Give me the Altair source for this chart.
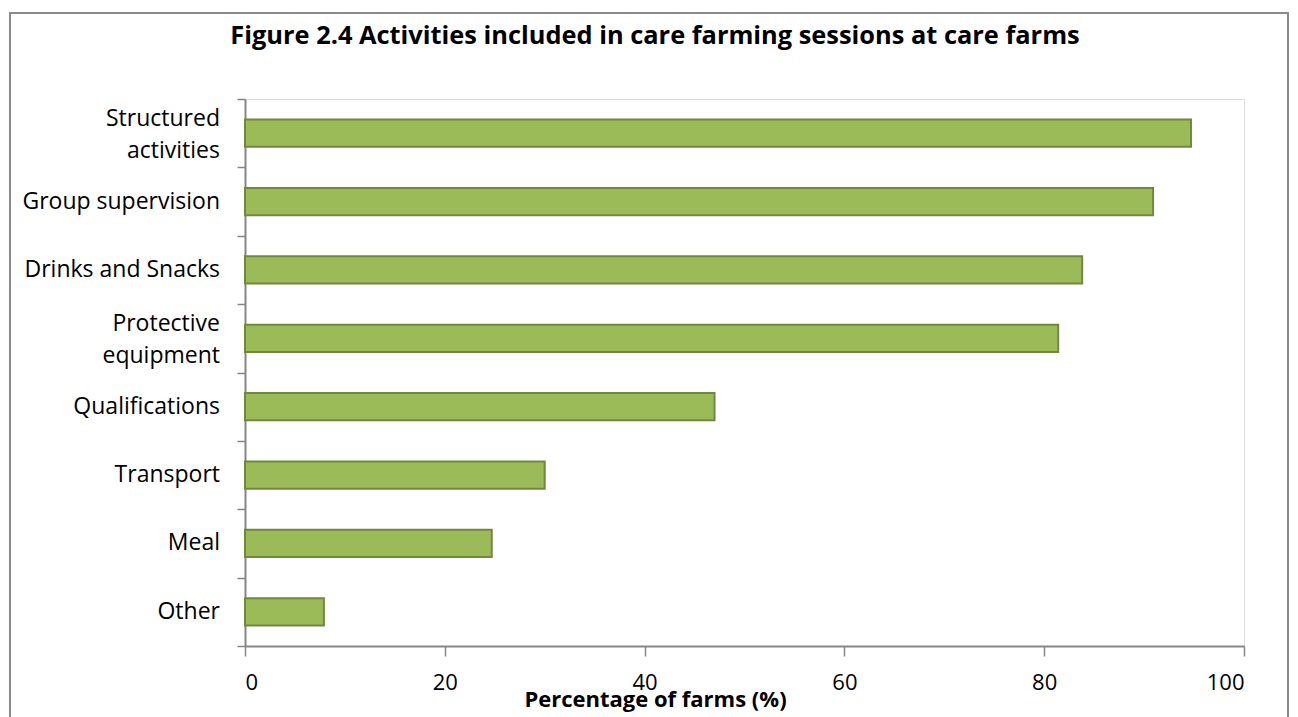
import altair as alt
import pandas as pd

categories = ["Structured\nactivities", "Group supervision", "Drinks and Snacks",
              "Protective\nequipment", "Qualifications", "Transport", "Meal", "Other"]
values = [94.7, 90.9, 83.8, 81.4, 47.0, 30.0, 24.7, 7.9]
x_ticks = [0, 20, 40, 60, 80, 100]
title_text = ["Figure 2.4 Activities included in care farming sessions at care farms"]

df = pd.DataFrame({"activity": categories, "pct": values})

FONT = "Open Sans"
AXIS_GREY = "#868686"

y_enc = alt.Y("activity:N", sort=categories,
              scale=alt.Scale(paddingInner=0, paddingOuter=0),
              axis=alt.Axis(title=None, tickBand="extent", labels=False,
                            domainColor=AXIS_GREY, domainWidth=2,
                            tickColor=AXIS_GREY, tickWidth=1.5, tickSize=8))

bars = alt.Chart(df).mark_bar(
    color="#9BBB59", stroke="#71893F", strokeWidth=2,
    height=alt.RelativeBandSize(0.4)
).encode(
    x=alt.X("pct:Q",
            scale=alt.Scale(domain=[0, 100], nice=False),
            axis=alt.Axis(values=x_ticks, title="Percentage of farms (%)",
                          grid=False, domainColor=AXIS_GREY, domainWidth=2,
                          tickColor=AXIS_GREY, tickWidth=1.5, tickSize=10,
                          labelFont=FONT, labelFontSize=22, labelColor="black",
                          labelPadding=16,
                          titleFont=FONT, titleFontSize=22, titleFontWeight="bold",
                          titleColor="black", titleX=410, titleY=60,
                          titleAlign="center",
                          titleBaseline="alphabetic")),
    y=y_enc,
)

label_style = dict(font=FONT, fontSize=23, color="black", align="right",
                   baseline="middle", lineBreak="\n", lineHeight=32)

labels_single = alt.Chart(df).transform_filter(
    "indexof(datum.activity, '\\n') < 0"
).mark_text(**label_style).encode(
    y=alt.Y("activity:N", sort=categories), text="activity:N", x=alt.value(-25),
)

labels_double = alt.Chart(df).transform_filter(
    "indexof(datum.activity, '\\n') >= 0"
).mark_text(dy=-14, **label_style).encode(
    y=alt.Y("activity:N", sort=categories), text="activity:N", x=alt.value(-25),
)

frame = alt.Chart(pd.DataFrame({"a": [0]})).mark_rect(
    fill=None, fillOpacity=0, stroke="#8A8A8A", strokeWidth=2
).encode(
    x=alt.value(-235), x2=alt.value(1043),
    y=alt.value(-86), y2=alt.value(640),
)

title = alt.Chart(pd.DataFrame({"t": title_text})).mark_text(
    font=FONT, fontSize=25.4, fontWeight="bold", color="black",
    align="center", baseline="alphabetic"
).encode(
    text="t:N", x=alt.value(410), y=alt.value(-55),
)

chart = alt.layer(frame, bars, labels_single, labels_double, title).properties(
    width=999, height=547,
    padding={"left": 245, "top": 99, "right": 54, "bottom": 71},
    autosize=alt.AutoSizeParams(type="none"),
).configure_view(
    fill="#EFF2E9", stroke=None
).configure(background="white")

chart.save("out.html", embed_options={"renderer": "svg", "actions": False})
